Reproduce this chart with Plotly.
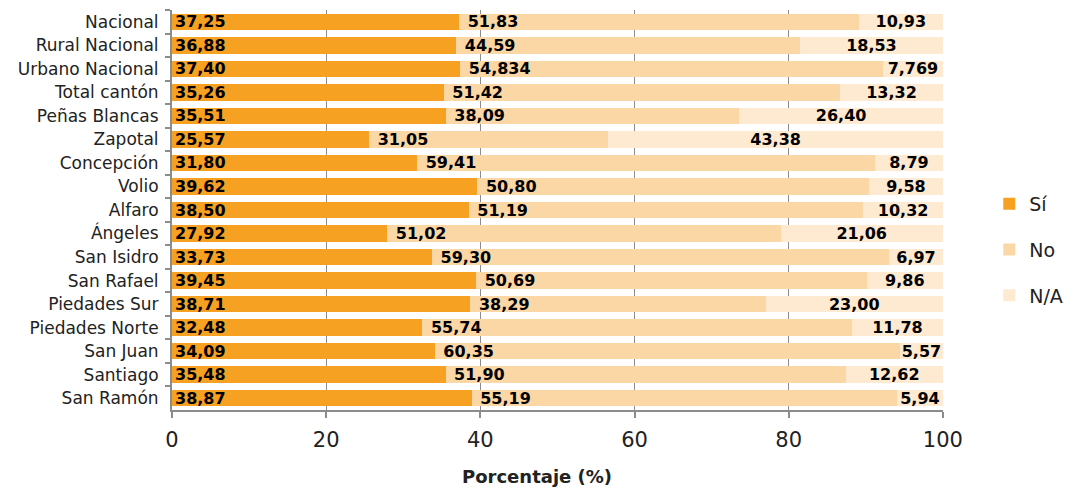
import plotly.graph_objects as go

categories = ["Nacional", "Rural Nacional", "Urbano Nacional", "Total cantón", "Peñas Blancas",
              "Zapotal", "Concepción", "Volio", "Alfaro", "Ángeles", "San Isidro", "San Rafael",
              "Piedades Sur", "Piedades Norte", "San Juan", "Santiago", "San Ramón"]
si = [37.25, 36.88, 37.40, 35.26, 35.51, 25.57, 31.80, 39.62, 38.50, 27.92, 33.73, 39.45,
      38.71, 32.48, 34.09, 35.48, 38.87]
no = [51.83, 44.59, 54.834, 51.42, 38.09, 31.05, 59.41, 50.80, 51.19, 51.02, 59.30, 50.69,
      38.29, 55.74, 60.35, 51.90, 55.19]
na = [10.93, 18.53, 7.769, 13.32, 26.40, 43.38, 8.79, 9.58, 10.32, 21.06, 6.97, 9.86,
      23.00, 11.78, 5.57, 12.62, 5.94]
series_names = ["Sí", "No", "N/A"]
colors = ["#F7A123", "#FCD7A6", "#FEE9D1"]
x_ticks = [0, 20, 40, 60, 80, 100]
x_title = "Porcentaje (%)"


def fmt(v):
    d = 2 if abs(v * 100 - round(v * 100)) < 1e-6 else 3
    return f"{v:.{d}f}".replace(".", ",")


FONT = "DejaVu Sans"
fig = go.Figure()
anchors = ["start", "start", "middle"]
prefixes = ["", "\u00a0", ""]
for name, vals, col, anc, pre in zip(series_names, [si, no, na], colors, anchors, prefixes):
    fig.add_trace(go.Bar(
        y=categories, x=vals, name=name, orientation="h",
        marker=dict(color=col, line=dict(width=0)),
        text=[pre + fmt(v) for v in vals], textposition="inside", insidetextanchor=anc,
        constraintext="none", cliponaxis=False,
        textfont=dict(family=FONT, size=16, color="black", weight="bold"),
        legendgroup=name,
    ))

fig.update_layout(
    barmode="stack", bargap=0.3,
    width=1078, height=491,
    margin=dict(l=172, r=135, t=10, b=81),
    plot_bgcolor="white", paper_bgcolor="white",
    font=dict(family=FONT, color="#222"),
    legend=dict(x=1.06, y=0.40, xanchor="left", yanchor="middle",
                traceorder="grouped", tracegroupgap=18,
                font=dict(family=FONT, size=19, color="#222")),
    annotations=[dict(text="<b>" + x_title + "</b>", x=0.473, y=-0.165, xref="paper", yref="paper",
                      xanchor="center", yanchor="middle", showarrow=False,
                      font=dict(family=FONT, size=18, color="#222"))],
)
fig.update_xaxes(range=[0, 100.02], tickvals=x_ticks, showgrid=True, gridcolor="#8c8c8c",
                 gridwidth=1, showline=True, linecolor="#8c8c8c", linewidth=2,
                 ticks="outside", ticklen=6, tickcolor="#8c8c8c", tickwidth=2,
                 ticklabelstandoff=4,
                 tickfont=dict(family=FONT, size=21, color="#222"), zeroline=False)
fig.update_yaxes(autorange="reversed", showline=True, linecolor="#8c8c8c", linewidth=2,
                 ticks="outside", ticklen=5, tickcolor="#8c8c8c", tickwidth=2,
                 tickson="boundaries", showgrid=False, ticklabelstandoff=8,
                 tickfont=dict(family=FONT, size=17, color="#222"))
fig.write_html("out.html", config={"displayModeBar": False},
               post_script="document.body.style.margin='0';")
